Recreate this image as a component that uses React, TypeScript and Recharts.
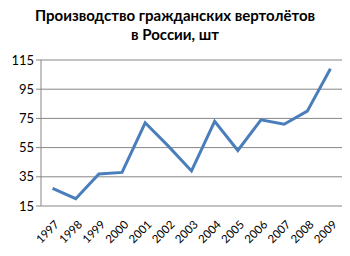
import { LineChart, Line, XAxis, YAxis, CartesianGrid } from 'recharts'

const years = ['1997', '1998', '1999', '2000', '2001', '2002', '2003', '2004', '2005', '2006', '2007', '2008', '2009']
const output = [27, 20, 37, 38, 72, 56, 39, 73, 53, 74, 71, 80, 109]
const yTicks = [15, 35, 55, 75, 95, 115]
const boundaryTicks = [-0.5, 0.5, 1.5, 2.5, 3.5, 4.5, 5.5, 6.5, 7.5, 8.5, 9.5, 10.5, 11.5, 12.5]

const data = years.map((year, i) => ({ year, idx: i, value: output[i] }))

const FONT = 'Lato, "Open Sans", sans-serif'
const AXIS = '#868686'
// half of one category step, so points sit in the middle of each band
const HALF_STEP = 301 / 13 / 2

// eslint-disable-next-line @typescript-eslint/no-explicit-any
function YearTick({ x, y, payload }: any) {
  const ax = x + 4
  const ay = y + 8
  return (
    <text
      x={ax}
      y={ay}
      transform={`rotate(-45, ${ax}, ${ay})`}
      textAnchor="end"
      dominantBaseline="central"
      fontSize={11.5}
      fontFamily={FONT}
      fill="#000"
    >
      {payload.value}
    </text>
  )
}

export default function App() {
  return (
    <div style={{ position: 'absolute', left: 0, top: 0, width: 350, height: 256, background: '#fff' }}>
      <div
        style={{
          position: 'absolute', left: 0, top: 6, width: 350, textAlign: 'center',
          fontFamily: FONT, fontWeight: 700, fontSize: 15, lineHeight: '19px', color: '#000',
        }}
      >
        Производство гражданских вертолётов
        <br />
        в России, шт
      </div>
      <LineChart width={350} height={256} data={data} margin={{ top: 60, right: 8, bottom: 0, left: 0 }}>
        <CartesianGrid vertical={false} stroke={AXIS} />
        <XAxis
          xAxisId="marks"
          type="number"
          dataKey="idx"
          domain={[-0.5, 12.5]}
          ticks={boundaryTicks}
          tick={false}
          tickSize={5}
          height={0}
          stroke={AXIS}
          allowDataOverflow
        />
        <XAxis
          dataKey="year"
          tick={<YearTick />}
          tickLine={false}
          axisLine={false}
          height={50}
          interval={0}
          padding={{ left: HALF_STEP, right: HALF_STEP }}
        />
        <YAxis
          domain={[15, 115]}
          ticks={yTicks}
          width={41}
          tickSize={5}
          stroke={AXIS}
          tick={{ fill: '#000', fontSize: 13, fontFamily: FONT }}
        />
        <Line
          type="linear"
          dataKey="value"
          stroke="#4A7EBB"
          strokeWidth={3}
          dot={false}
          isAnimationActive={false}
        />
      </LineChart>
    </div>
  )
}
